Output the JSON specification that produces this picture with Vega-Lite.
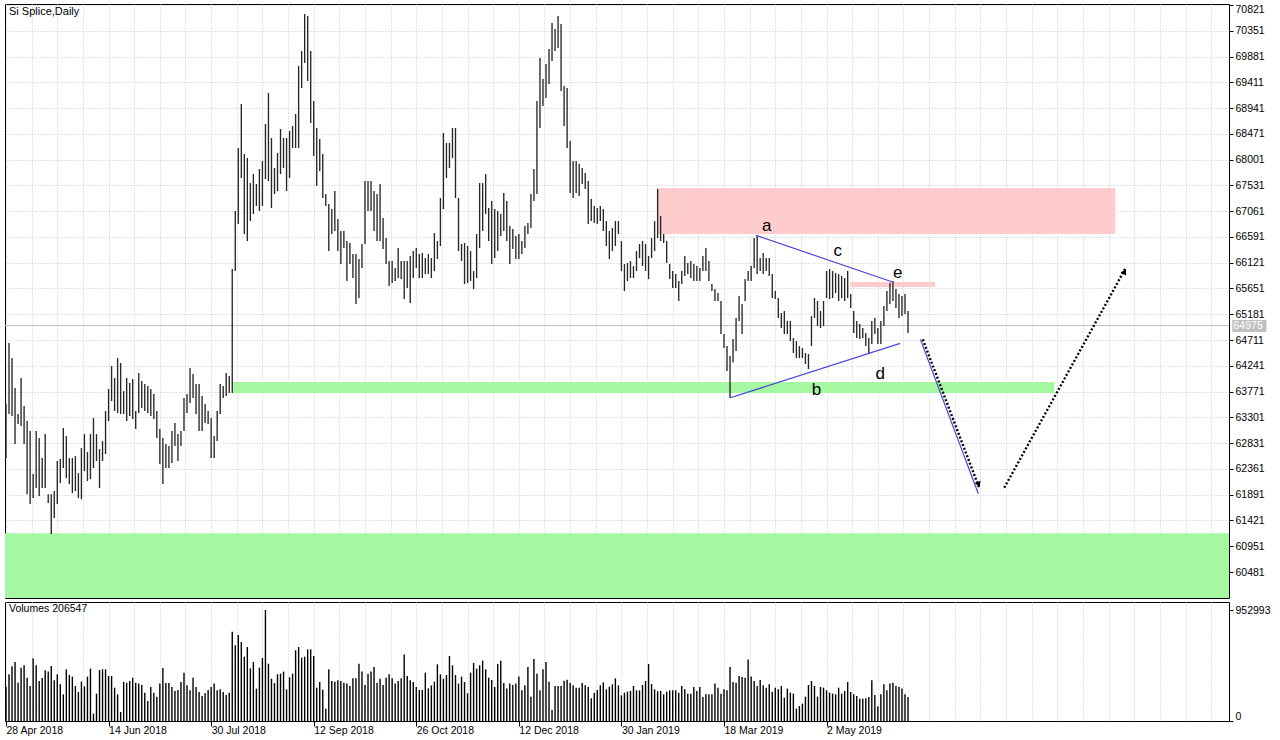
{
"$schema":"https://vega.github.io/schema/vega-lite/v6.json",
"background":"#ffffff",
"padding":{"left":4,"top":3,"right":0,"bottom":0},
"spacing":2,
"config":{
 "view":{"stroke":"#000000","strokeWidth":1},
 "axis":{"labelFont":"Liberation Sans","labelFontSize":10.5,"labelColor":"#000000","tickColor":"#000000","gridColor":"#c8c8c8","gridDash":[1,2],"domain":false},
 "text":{"font":"Liberation Sans"}
},
"datasets":{
"bars":[
{"i":0,"h":63543,"l":62558,"v":292000},{"i":1,"h":64656,"l":63361,"v":401000},{"i":2,"h":64382,"l":63324,"v":469000},{"i":3,"h":63835,"l":62814,"v":507000},{"i":4,"h":63361,"l":63178,"v":329000},{"i":5,"h":64018,"l":63142,"v":458000},{"i":6,"h":63507,"l":62814,"v":478000},{"i":7,"h":63233,"l":61901,"v":372000},{"i":8,"h":63051,"l":61719,"v":301000},{"i":9,"h":62266,"l":61829,"v":538000},
{"i":10,"h":63051,"l":62011,"v":478000},{"i":11,"h":62923,"l":61865,"v":343000},{"i":12,"h":62558,"l":62011,"v":369000},{"i":13,"h":62996,"l":62011,"v":435000},{"i":14,"h":61901,"l":61738,"v":424000},{"i":15,"h":61901,"l":61172,"v":472000},{"i":16,"h":61956,"l":61464,"v":349000},{"i":17,"h":62504,"l":61719,"v":401000},{"i":18,"h":62540,"l":62102,"v":315000},{"i":19,"h":63106,"l":62376,"v":229000},
{"i":20,"h":62960,"l":62194,"v":444000},{"i":21,"h":62558,"l":62084,"v":395000},{"i":22,"h":62558,"l":61920,"v":381000},{"i":23,"h":62595,"l":61956,"v":301000},{"i":24,"h":62285,"l":61829,"v":249000},{"i":25,"h":62741,"l":61810,"v":338000},{"i":26,"h":62996,"l":62321,"v":298000},{"i":27,"h":62668,"l":62139,"v":381000},{"i":28,"h":62996,"l":62175,"v":449000},{"i":29,"h":63288,"l":62376,"v":63000},
{"i":30,"h":62996,"l":62504,"v":235000},{"i":31,"h":62722,"l":62011,"v":438000},{"i":32,"h":62868,"l":62504,"v":444000},{"i":33,"h":63416,"l":62631,"v":444000},{"i":34,"h":63817,"l":63233,"v":386000},{"i":35,"h":64236,"l":63598,"v":386000},{"i":36,"h":64018,"l":63416,"v":286000},{"i":37,"h":64382,"l":63379,"v":229000},{"i":38,"h":64291,"l":63361,"v":77000},{"i":39,"h":63780,"l":63361,"v":335000},
{"i":40,"h":64018,"l":63233,"v":329000},{"i":41,"h":63927,"l":63324,"v":343000},{"i":42,"h":63999,"l":63270,"v":372000},{"i":43,"h":63416,"l":63087,"v":329000},{"i":44,"h":64109,"l":63379,"v":323000},{"i":45,"h":63963,"l":63470,"v":309000},{"i":46,"h":63908,"l":63416,"v":243000},{"i":47,"h":63872,"l":63379,"v":172000},{"i":48,"h":63817,"l":63324,"v":292000},{"i":49,"h":63726,"l":63270,"v":243000},
{"i":50,"h":63416,"l":62923,"v":209000},{"i":51,"h":63087,"l":62449,"v":321000},{"i":52,"h":62923,"l":62084,"v":455000},{"i":53,"h":62814,"l":62376,"v":326000},{"i":54,"h":62777,"l":62376,"v":326000},{"i":55,"h":63051,"l":62467,"v":292000},{"i":56,"h":63197,"l":62777,"v":258000},{"i":57,"h":62996,"l":62504,"v":266000},{"i":58,"h":63051,"l":62777,"v":335000},{"i":59,"h":63653,"l":63051,"v":415000},
{"i":60,"h":63726,"l":63379,"v":306000},{"i":61,"h":64200,"l":63562,"v":263000},{"i":62,"h":64090,"l":63653,"v":372000},{"i":63,"h":63908,"l":63361,"v":292000},{"i":64,"h":63908,"l":63051,"v":249000},{"i":65,"h":63689,"l":63051,"v":215000},{"i":66,"h":63543,"l":63197,"v":238000},{"i":67,"h":63416,"l":63178,"v":266000},{"i":68,"h":63288,"l":62558,"v":292000},{"i":69,"h":62960,"l":62558,"v":321000},
{"i":70,"h":63416,"l":62868,"v":263000},{"i":71,"h":63908,"l":63361,"v":272000},{"i":72,"h":63872,"l":63653,"v":249000},{"i":73,"h":64109,"l":63689,"v":223000},{"i":74,"h":64054,"l":63744,"v":243000},{"i":75,"h":66006,"l":63744,"v":767000},{"i":76,"h":67064,"l":65969,"v":650000},{"i":77,"h":68213,"l":66826,"v":738000},{"i":78,"h":69015,"l":67666,"v":678000},{"i":79,"h":68103,"l":66644,"v":552000},
{"i":80,"h":68030,"l":66516,"v":635000},{"i":81,"h":67574,"l":66881,"v":452000},{"i":82,"h":67738,"l":67009,"v":507000},{"i":83,"h":67556,"l":67155,"v":278000},{"i":84,"h":67830,"l":67064,"v":458000},{"i":85,"h":67976,"l":67155,"v":541000},{"i":86,"h":68651,"l":67647,"v":952993},{"i":87,"h":69216,"l":67611,"v":492000},{"i":88,"h":68395,"l":67118,"v":363000},{"i":89,"h":67848,"l":67374,"v":326000},
{"i":90,"h":68121,"l":67428,"v":401000},{"i":91,"h":68559,"l":67738,"v":406000},{"i":92,"h":68395,"l":67848,"v":424000},{"i":93,"h":68395,"l":67428,"v":272000},{"i":94,"h":68523,"l":67666,"v":375000},{"i":95,"h":68614,"l":68213,"v":406000},{"i":96,"h":68833,"l":68213,"v":607000},{"i":97,"h":69708,"l":68213,"v":635000},{"i":98,"h":69982,"l":69307,"v":544000},{"i":99,"h":70657,"l":69763,"v":552000},
{"i":100,"h":70620,"l":69435,"v":615000},{"i":101,"h":69982,"l":68669,"v":615000},{"i":102,"h":69070,"l":68067,"v":558000},{"i":103,"h":68578,"l":67520,"v":286000},{"i":104,"h":68377,"l":67793,"v":335000},{"i":105,"h":68103,"l":67301,"v":269000},{"i":106,"h":67374,"l":67155,"v":106000},{"i":107,"h":67191,"l":66334,"v":444000},{"i":108,"h":67100,"l":66644,"v":343000},{"i":109,"h":67428,"l":66699,"v":338000},
{"i":110,"h":66918,"l":66334,"v":349000},{"i":111,"h":66699,"l":66097,"v":343000},{"i":112,"h":66699,"l":66389,"v":329000},{"i":113,"h":66516,"l":65787,"v":323000},{"i":114,"h":66480,"l":66097,"v":301000},{"i":115,"h":66279,"l":65842,"v":366000},{"i":116,"h":66279,"l":65368,"v":366000},{"i":117,"h":66188,"l":65477,"v":492000},{"i":118,"h":66462,"l":66024,"v":424000},{"i":119,"h":67611,"l":66462,"v":309000},
{"i":120,"h":67611,"l":67064,"v":406000},{"i":121,"h":67611,"l":67064,"v":424000},{"i":122,"h":67428,"l":66699,"v":464000},{"i":123,"h":67374,"l":66516,"v":329000},{"i":124,"h":67556,"l":66516,"v":363000},{"i":125,"h":66936,"l":66371,"v":309000},{"i":126,"h":66571,"l":66097,"v":372000},{"i":127,"h":66152,"l":65696,"v":401000},{"i":128,"h":66152,"l":65750,"v":366000},{"i":129,"h":66024,"l":65787,"v":321000},
{"i":130,"h":66389,"l":65842,"v":343000},{"i":131,"h":66152,"l":65823,"v":366000},{"i":132,"h":66152,"l":65459,"v":572000},{"i":133,"h":66152,"l":65659,"v":386000},{"i":134,"h":66243,"l":65386,"v":349000},{"i":135,"h":66334,"l":65842,"v":335000},{"i":136,"h":66389,"l":66024,"v":292000},{"i":137,"h":66279,"l":65842,"v":266000},{"i":138,"h":66298,"l":65842,"v":266000},{"i":139,"h":66206,"l":65914,"v":415000},
{"i":140,"h":66279,"l":65914,"v":280000},{"i":141,"h":66206,"l":65842,"v":306000},{"i":142,"h":66662,"l":65969,"v":338000},{"i":143,"h":66516,"l":66188,"v":487000},{"i":144,"h":67301,"l":66425,"v":401000},{"i":145,"h":68486,"l":67100,"v":363000},{"i":146,"h":68304,"l":67666,"v":395000},{"i":147,"h":68304,"l":67848,"v":558000},{"i":148,"h":68578,"l":68030,"v":478000},{"i":149,"h":68578,"l":67301,"v":395000},
{"i":150,"h":67301,"l":66334,"v":321000},{"i":151,"h":66462,"l":66152,"v":381000},{"i":152,"h":66480,"l":65732,"v":335000},{"i":153,"h":66425,"l":65750,"v":238000},{"i":154,"h":66334,"l":65787,"v":415000},{"i":155,"h":65969,"l":65641,"v":498000},{"i":156,"h":66644,"l":65842,"v":449000},{"i":157,"h":67574,"l":66389,"v":478000},{"i":158,"h":67574,"l":66699,"v":518000},{"i":159,"h":67738,"l":67009,"v":444000},
{"i":160,"h":67118,"l":66516,"v":372000},{"i":161,"h":67246,"l":66097,"v":352000},{"i":162,"h":67100,"l":66206,"v":292000},{"i":163,"h":67064,"l":66334,"v":489000},{"i":164,"h":67009,"l":66608,"v":518000},{"i":165,"h":67392,"l":66699,"v":326000},{"i":166,"h":67246,"l":66516,"v":278000},{"i":167,"h":66790,"l":66097,"v":323000},{"i":168,"h":66735,"l":66371,"v":309000},{"i":169,"h":66608,"l":66188,"v":321000},
{"i":170,"h":66644,"l":66188,"v":381000},{"i":171,"h":66516,"l":66279,"v":263000},{"i":172,"h":66790,"l":66389,"v":306000},{"i":173,"h":66845,"l":66644,"v":464000},{"i":174,"h":67374,"l":66754,"v":209000},{"i":175,"h":67830,"l":67246,"v":532000},{"i":176,"h":69070,"l":67374,"v":406000},{"i":177,"h":69854,"l":68578,"v":263000},{"i":178,"h":69471,"l":68979,"v":444000},{"i":179,"h":69745,"l":69125,"v":507000},
{"i":180,"h":70019,"l":69380,"v":338000},{"i":181,"h":70493,"l":69800,"v":94000},{"i":182,"h":70383,"l":69982,"v":301000},{"i":183,"h":70620,"l":70037,"v":301000},{"i":184,"h":70475,"l":69252,"v":301000},{"i":185,"h":69344,"l":68614,"v":346000},{"i":186,"h":69307,"l":68213,"v":355000},{"i":187,"h":68340,"l":67392,"v":329000},{"i":188,"h":67976,"l":67301,"v":306000},{"i":189,"h":67976,"l":67392,"v":286000},
{"i":190,"h":67921,"l":67337,"v":286000},{"i":191,"h":67848,"l":67556,"v":326000},{"i":192,"h":67757,"l":67465,"v":306000},{"i":193,"h":67611,"l":66826,"v":292000},{"i":194,"h":67283,"l":66881,"v":195000},{"i":195,"h":67155,"l":66845,"v":243000},{"i":196,"h":67118,"l":66826,"v":266000},{"i":197,"h":67155,"l":66881,"v":306000},{"i":198,"h":67100,"l":66699,"v":332000},{"i":199,"h":66881,"l":66425,"v":272000},
{"i":200,"h":66699,"l":66188,"v":295000},{"i":201,"h":66754,"l":66334,"v":315000},{"i":202,"h":66881,"l":66425,"v":366000},{"i":203,"h":66881,"l":66644,"v":306000},{"i":204,"h":66516,"l":65969,"v":220000},{"i":205,"h":66097,"l":65604,"v":243000},{"i":206,"h":66115,"l":65787,"v":252000},{"i":207,"h":66152,"l":65842,"v":258000},{"i":208,"h":66060,"l":65842,"v":301000},{"i":209,"h":66334,"l":65969,"v":263000},
{"i":210,"h":66462,"l":66206,"v":263000},{"i":211,"h":66516,"l":66060,"v":309000},{"i":212,"h":66462,"l":65969,"v":343000},{"i":213,"h":66243,"l":65823,"v":489000},{"i":214,"h":66571,"l":66206,"v":318000},{"i":215,"h":66881,"l":66334,"v":272000},{"i":216,"h":67465,"l":66571,"v":255000},{"i":217,"h":66972,"l":66516,"v":258000},{"i":218,"h":66644,"l":66480,"v":229000},{"i":219,"h":66516,"l":66115,"v":252000},
{"i":220,"h":66097,"l":65823,"v":263000},{"i":221,"h":65969,"l":65659,"v":263000},{"i":222,"h":65914,"l":65659,"v":263000},{"i":223,"h":65787,"l":65422,"v":243000},{"i":224,"h":65969,"l":65732,"v":301000},{"i":225,"h":66243,"l":65878,"v":272000},{"i":226,"h":66115,"l":65914,"v":235000},{"i":227,"h":66152,"l":65842,"v":235000},{"i":228,"h":66097,"l":65787,"v":292000},{"i":229,"h":66060,"l":65787,"v":258000},
{"i":230,"h":66024,"l":65787,"v":292000},{"i":231,"h":66243,"l":65969,"v":206000},{"i":232,"h":66389,"l":65969,"v":229000},{"i":233,"h":66152,"l":65787,"v":229000},{"i":234,"h":65732,"l":65604,"v":229000},{"i":235,"h":65641,"l":65422,"v":321000},{"i":236,"h":65568,"l":65422,"v":286000},{"i":237,"h":65422,"l":64820,"v":235000},{"i":238,"h":64820,"l":64565,"v":272000},{"i":239,"h":64601,"l":64145,"v":263000},
{"i":240,"h":64419,"l":63653,"v":464000},{"i":241,"h":64729,"l":64300,"v":335000},{"i":242,"h":65112,"l":64510,"v":329000},{"i":243,"h":65513,"l":65058,"v":386000},{"i":244,"h":65368,"l":64820,"v":378000},{"i":245,"h":65823,"l":65422,"v":372000},{"i":246,"h":65969,"l":65787,"v":527000},{"i":247,"h":66060,"l":65787,"v":381000},{"i":248,"h":66571,"l":66024,"v":343000},{"i":249,"h":66608,"l":65914,"v":301000},
{"i":250,"h":66206,"l":65969,"v":352000},{"i":251,"h":66298,"l":65914,"v":306000},{"i":252,"h":66206,"l":65969,"v":286000},{"i":253,"h":66206,"l":65878,"v":315000},{"i":254,"h":65914,"l":65477,"v":252000},{"i":255,"h":65604,"l":65459,"v":286000},{"i":256,"h":65477,"l":65112,"v":272000},{"i":257,"h":65204,"l":64930,"v":301000},{"i":258,"h":65240,"l":64820,"v":200000},{"i":259,"h":65058,"l":64820,"v":278000},
{"i":260,"h":65058,"l":64692,"v":243000},{"i":261,"h":64747,"l":64474,"v":235000},{"i":262,"h":64692,"l":64382,"v":106000},{"i":263,"h":64601,"l":64382,"v":129000},{"i":264,"h":64565,"l":64382,"v":149000},{"i":265,"h":64474,"l":64273,"v":209000},{"i":266,"h":64455,"l":64182,"v":309000},{"i":267,"h":65149,"l":64601,"v":343000},{"i":268,"h":65477,"l":65112,"v":301000},{"i":269,"h":65422,"l":64966,"v":209000},
{"i":270,"h":65240,"l":64930,"v":292000},{"i":271,"h":65422,"l":64966,"v":286000},{"i":272,"h":65969,"l":65477,"v":263000},{"i":273,"h":66006,"l":65459,"v":243000},{"i":274,"h":65969,"l":65477,"v":235000},{"i":275,"h":65933,"l":65568,"v":229000},{"i":276,"h":65914,"l":65422,"v":286000},{"i":277,"h":65878,"l":65477,"v":235000},{"i":278,"h":65842,"l":65422,"v":258000},{"i":279,"h":65969,"l":65477,"v":335000},
{"i":280,"h":65550,"l":65295,"v":249000},{"i":281,"h":65240,"l":64838,"v":229000},{"i":282,"h":65058,"l":64747,"v":215000},{"i":283,"h":65003,"l":64729,"v":192000},{"i":284,"h":64930,"l":64747,"v":192000},{"i":285,"h":64838,"l":64601,"v":195000},{"i":286,"h":64747,"l":64455,"v":206000},{"i":287,"h":65058,"l":64638,"v":349000},{"i":288,"h":65112,"l":64820,"v":223000},{"i":289,"h":64930,"l":64638,"v":126000},
{"i":290,"h":65058,"l":64638,"v":229000},{"i":291,"h":65331,"l":64966,"v":315000},{"i":292,"h":65604,"l":65240,"v":263000},{"i":293,"h":65750,"l":65368,"v":323000},{"i":294,"h":65787,"l":65422,"v":329000},{"i":295,"h":65641,"l":65295,"v":301000},{"i":296,"h":65550,"l":65112,"v":295000},{"i":297,"h":65513,"l":65149,"v":280000},{"i":298,"h":65550,"l":65185,"v":229000},{"i":299,"h":65240,"l":64838,"v":206547}
],
"zones":[
{"k":"pink","x1":215.8,"x2":367.7,"p1":66644,"p2":67483},
{"k":"pink","x1":279.9,"x2":308,"p1":65677,"p2":65769},
{"k":"green","x1":75.3,"x2":347.5,"p1":63744,"p2":63945},
{"k":"green","x1":-0.33,"x2":405.4,"p1":60007,"p2":61190}
],
"cur":[{"p":64975}],
"tri":[
{"g":"ac","i":248.6,"p":66620},{"g":"ac","i":293.9,"p":65769},
{"g":"bd","i":240.1,"p":63658},{"g":"bd","i":296.4,"p":64650},
{"g":"blue","i":303.1,"p":64723},{"g":"blue","i":322.3,"p":61907}
],
"arrows":[
{"g":"dn","i":303.9,"p":64723},{"g":"dn","i":322.6,"p":62017},
{"g":"up","i":330.9,"p":62017},{"g":"up","i":371.2,"p":66030}
],
"heads":[{"i":322.4,"p":62080,"a":159},{"i":370.8,"p":65960,"a":29}],
"letters":[
{"t":"a","i":252.2,"p":66790},{"t":"c","i":275.7,"p":66332},{"t":"e","i":295.6,"p":65938},{"t":"d","i":289.8,"p":64085},{"t":"b","i":268.7,"p":63793}
],
"title":[{"t":"Si Splice,Daily","i":1,"p":70693}],
"pricebox":[{"x1":406.5,"x2":417.8,"p1":64857,"p2":65075,"t":"64975","tx":406.9,"tp":64966}],
"vollabel":[{"t":"Volumes 206547","i":1,"v":961600}]
},
"vconcat":[
{
"width":1224,"height":594,
"layer":[
{"data":{"name":"zones"},"mark":{"type":"rect"},
 "encoding":{
  "x":{"field":"x1","type":"quantitative","title":null,"scale":{"domain":[-0.33,405.4],"nice":false,"zero":false},
   "axis":{"values":[0,8.5,17,25.5,34,42.5,51,59.5,68,76.5,85,93.5,102,110.5,119,127.5,136,144.5,153,161.5,170,178.5,187,195.5,204,212.5,221,229.5,238,246.5,255,263.5,272,280.5,289,297.5,306,314.5,323,331.5,340,348.5,357,365.5,374,382.5,391,399.5],"tickCount":200,"grid":true,"labels":false,"ticks":false,"domain":false,"title":null}},
  "x2":{"field":"x2"},
  "y":{"field":"p1","type":"quantitative","title":null,"scale":{"domain":[60007,70839],"nice":false,"zero":false},
   "axis":{"orient":"right","values":[60481,60951,61421,61891,62361,62831,63301,63771,64241,64711,65181,65651,66121,66591,67061,67531,68001,68471,68941,69411,69881,70351,70821],"tickCount":200,"format":"d","grid":true,"tickSize":4,"labelPadding":2,"labelOverlap":false,"labelFlush":false,"title":null,
    "labelBaseline":{"condition":{"test":"datum.value > 70800","value":"top"},"value":"middle"}}},
  "y2":{"field":"p2"},
  "color":{"field":"k","type":"nominal","scale":{"domain":["pink","green"],"range":["#ffccce","#a6f7a2"]},"legend":null}
 }},
{"data":{"name":"cur"},"mark":{"type":"rule","color":"#c0c0c0","strokeWidth":1},
 "encoding":{"y":{"field":"p","type":"quantitative","title":null,"scale":{"domain":[60007,70839],"nice":false,"zero":false}}}},
{"data":{"name":"bars"},"mark":{"type":"rule","color":"#262626","strokeWidth":1.35},
 "encoding":{
  "x":{"field":"i","type":"quantitative","title":null,"scale":{"domain":[-0.33,405.4],"nice":false,"zero":false}},
  "y":{"field":"h","type":"quantitative","title":null,"scale":{"domain":[60007,70839],"nice":false,"zero":false}},
  "y2":{"field":"l"}}},
{"data":{"name":"tri"},"mark":{"type":"line","color":"#4848d8","strokeWidth":1.2},
 "encoding":{
  "x":{"field":"i","type":"quantitative","title":null,"scale":{"domain":[-0.33,405.4],"nice":false,"zero":false}},
  "y":{"field":"p","type":"quantitative","title":null,"scale":{"domain":[60007,70839],"nice":false,"zero":false}},
  "detail":{"field":"g","type":"nominal"}}},
{"data":{"name":"arrows"},"mark":{"type":"line","color":"#000000","strokeWidth":2.4,"strokeDash":[2,2]},
 "encoding":{
  "x":{"field":"i","type":"quantitative","title":null,"scale":{"domain":[-0.33,405.4],"nice":false,"zero":false}},
  "y":{"field":"p","type":"quantitative","title":null,"scale":{"domain":[60007,70839],"nice":false,"zero":false}},
  "detail":{"field":"g","type":"nominal"}}},
{"data":{"name":"heads"},"mark":{"type":"point","shape":"triangle-up","filled":true,"color":"#000000","size":40,"opacity":1},
 "encoding":{
  "x":{"field":"i","type":"quantitative","title":null,"scale":{"domain":[-0.33,405.4],"nice":false,"zero":false}},
  "y":{"field":"p","type":"quantitative","title":null,"scale":{"domain":[60007,70839],"nice":false,"zero":false}},
  "angle":{"field":"a","type":"quantitative","scale":null}}},
{"data":{"name":"letters"},"mark":{"type":"text","fontSize":17,"font":"Liberation Sans","color":"#000000","align":"center","baseline":"middle"},
 "encoding":{
  "x":{"field":"i","type":"quantitative","title":null,"scale":{"domain":[-0.33,405.4],"nice":false,"zero":false}},
  "y":{"field":"p","type":"quantitative","title":null,"scale":{"domain":[60007,70839],"nice":false,"zero":false}},
  "text":{"field":"t"}}},
{"data":{"name":"title"},"mark":{"type":"text","fontSize":11,"font":"Liberation Sans","color":"#000000","align":"left","baseline":"middle"},
 "encoding":{
  "x":{"field":"i","type":"quantitative","title":null,"scale":{"domain":[-0.33,405.4],"nice":false,"zero":false}},
  "y":{"field":"p","type":"quantitative","title":null,"scale":{"domain":[60007,70839],"nice":false,"zero":false}},
  "text":{"field":"t"}}},
{"data":{"name":"pricebox"},"mark":{"type":"rect","color":"#c0c0c0"},
 "encoding":{
  "x":{"field":"x1","type":"quantitative","title":null,"scale":{"domain":[-0.33,405.4],"nice":false,"zero":false}},
  "x2":{"field":"x2"},
  "y":{"field":"p1","type":"quantitative","title":null,"scale":{"domain":[60007,70839],"nice":false,"zero":false}},
  "y2":{"field":"p2"}}},
{"data":{"name":"pricebox"},"mark":{"type":"text","fontSize":10.5,"font":"Liberation Sans","color":"#ffffff","align":"left","baseline":"middle"},
 "encoding":{
  "x":{"field":"tx","type":"quantitative","title":null,"scale":{"domain":[-0.33,405.4],"nice":false,"zero":false}},
  "y":{"field":"tp","type":"quantitative","title":null,"scale":{"domain":[60007,70839],"nice":false,"zero":false}},
  "text":{"field":"t"}}}
]
},
{
"width":1224,"height":119,
"layer":[
{"data":{"name":"bars"},"mark":{"type":"rule","color":"#000000","strokeWidth":1.4},
 "encoding":{
  "x":{"field":"i","type":"quantitative","title":null,"scale":{"domain":[-0.33,405.4],"nice":false,"zero":false},
   "axis":{"values":[0,8.5,17,25.5,34,42.5,51,59.5,68,76.5,85,93.5,102,110.5,119,127.5,136,144.5,153,161.5,170,178.5,187,195.5,204,212.5,221,229.5,238,246.5,255,263.5,272,280.5,289,297.5,306,314.5,323,331.5,340,348.5,357,365.5,374,382.5,391,399.5],"tickCount":200,
    "grid":true,"domain":false,"title":null,
    "labelExpr":"(datum.value % 34 === 0 && datum.value <= 272) ? ['28 Apr 2018','14 Jun 2018','30 Jul 2018','12 Sep 2018','26 Oct 2018','12 Dec 2018','30 Jan 2019','18 Mar 2019','2 May 2019'][datum.value/34] : ''",
    "labelAlign":"left","labelBaseline":"top","labelPadding":-1,"labelOverlap":false,"labelBound":false,"labelFlush":false,"tickSize":5,
    "tickOpacity":{"condition":{"test":"datum.value % 34 === 0 && datum.value <= 272","value":1},"value":0}}},
  "y":{"field":"v","type":"quantitative","title":null,"scale":{"domain":[0,1021700],"nice":false,"zero":true},
   "axis":{"orient":"right","values":[0,952993],"tickCount":200,"format":"d","grid":false,"tickSize":4,"labelPadding":2,"labelOverlap":false,"title":null,
    "labelBaseline":{"condition":{"test":"datum.value > 0","value":"middle"},"value":"bottom"}}},
  "y2":{"datum":0}}},
{"data":{"name":"vollabel"},"mark":{"type":"text","fontSize":10.5,"font":"Liberation Sans","color":"#000000","align":"left","baseline":"middle"},
 "encoding":{
  "x":{"field":"i","type":"quantitative","title":null,"scale":{"domain":[-0.33,405.4],"nice":false,"zero":false}},
  "y":{"field":"v","type":"quantitative","title":null,"scale":{"domain":[0,1021700],"nice":false,"zero":true}},
  "text":{"field":"t"}}}
]
}
]
}
